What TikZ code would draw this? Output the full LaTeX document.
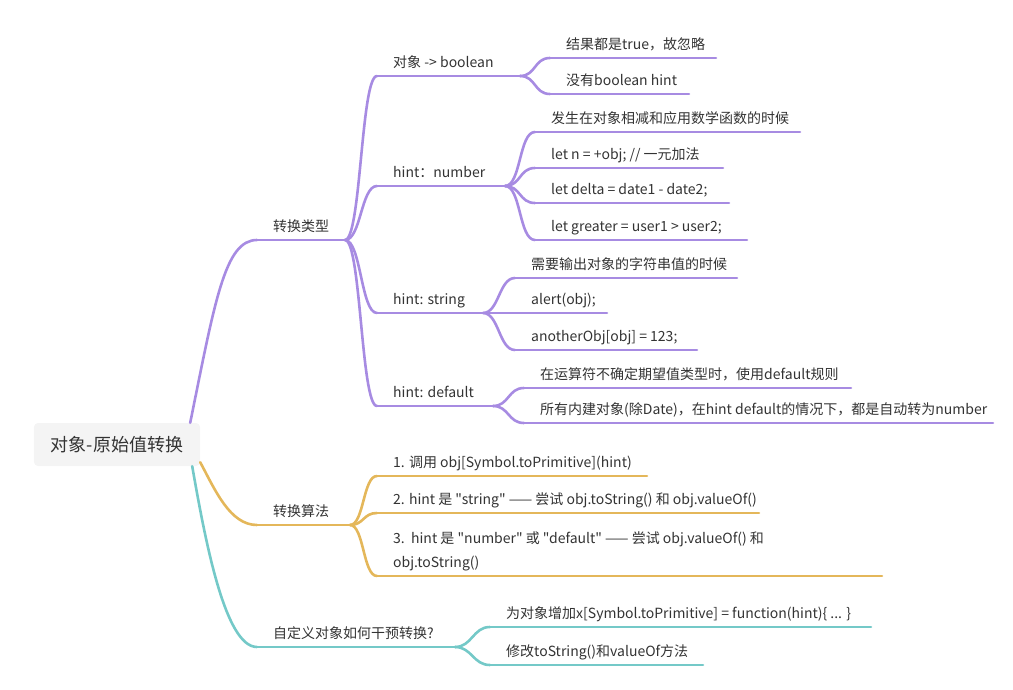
\documentclass[tikz,border=0pt]{standalone}
\usepackage{fontspec}
\setmainfont{Noto Sans CJK SC}[Ligatures=TeXOff]
\usepackage{tikz}
\definecolor{purpline}{HTML}{A78BE2}
\definecolor{goldline}{HTML}{E4B75A}
\definecolor{tealline}{HTML}{74C9C8}
\definecolor{rootfill}{HTML}{F4F4F4}
\definecolor{textgray}{HTML}{333333}

\begin{document}
\begin{tikzpicture}[x=1bp,y=-1bp,
    branch/.style={draw=#1,line width=2.6bp,line cap=round},
    topic/.style={anchor=south west,inner xsep=16bp,inner ysep=5.5bp,text depth=3bp,align=left,
      text=textgray,font=\fontsize{14bp}{24bp}\selectfont}]
\useasboundingbox (0,0) rectangle (1013,690);

\node[fill=rootfill,rounded corners=4bp,minimum width=166bp,minimum height=43bp,text=textgray,
  font=\fontsize{18bp}{22bp}\selectfont] (root) at (117,444.5) {对象-原始值转换};

%% first level
\node[topic] (type) at (257,240) {转换类型};
\node[topic] (algo) at (257,525) {转换算法};
\node[topic] (custom) at (257,647) {自定义对象如何干预转换?};

%% 转换类型
\node[topic] (bool) at (377,76) {对象 -> boolean};
\node[topic] (num) at (377,186) {hint：number};
\node[topic] (str) at (377,313) {hint: string};
\node[topic] (dflt) at (377,406) {hint: default};
\node[topic] (b1) at (550,58) {结果都是true，故忽略};
\node[topic] (b2) at (550,94) {没有boolean hint};
\node[topic] (n1) at (535,132) {发生在对象相减和应用数学函数的时候};
\node[topic] (n2) at (535,168) {let n = +obj; // 一元加法};
\node[topic] (n3) at (535,203) {let delta = date1 - date2;};
\node[topic] (n4) at (535,240) {let greater = user1 > user2;};
\node[topic] (s1) at (515,278) {需要输出对象的字符串值的时候};
\node[topic] (s2) at (515,313) {alert(obj);};
\node[topic] (s3) at (515,350) {anotherObj[obj] = 123;};
\node[topic] (d1) at (524,388) {在运算符不确定期望值类型时，使用default规则};
\node[topic] (d2) at (524,423) {所有内建对象(除Date)，在hint default的情况下，都是自动转为number};

%% 转换算法
\node[topic] (a1) at (377,476) {1. 调用 obj[Symbol.toPrimitive](hint)};
\node[topic] (a2) at (377,513) {2. hint 是 "string" —— 尝试 obj.toString() 和 obj.valueOf()};
\node[topic] (a3) at (377,576) {3.\ \ hint 是 "number" 或 "default" —— 尝试 obj.valueOf() 和\\obj.toString()};

%% 自定义
\node[topic] (c1) at (490,627) {为对象增加x[Symbol.toPrimitive] = function(hint)\{ ... \}};
\node[topic] (c2) at (490,665) {修改toString()和valueOf方法};

%% root branches
\draw[branch=purpline] ([xshift=-10bp]root.north east) .. controls +(25,-123) and +(-32,0) .. (type.south west);
\draw[branch=goldline] ([yshift=4bp]root.south east) .. controls +(15,28) and +(-27,0) .. (algo.south west);
\draw[branch=tealline] ([xshift=-8bp]root.south east) .. controls +(13,74) and +(-32,0) .. (custom.south west);

%% underlines
\foreach \n/\len in {type/88,bool/143,num/128,str/106,dflt/116,b1/166,b2/139,n1/265,n2/188,n3/194,n4/212,
    s1/222,s2/92,s3/182,d1/327,d2/469}
  \draw[branch=purpline] (\n.south west) -- ++(\len,0) coordinate (\n-end);
\foreach \n/\len in {algo/93,a1/270,a2/382,a3/505}
  \draw[branch=goldline] (\n.south west) -- ++(\len,0) coordinate (\n-end);
\foreach \n/\len in {custom/198,c1/381,c2/213}
  \draw[branch=tealline] (\n.south west) -- ++(\len,0) coordinate (\n-end);

%% connectors
\foreach \p/\c in {type/bool,type/num,type/str,type/dflt,bool/b1,bool/b2,num/n1,num/n2,num/n3,num/n4,
    str/s1,str/s2,str/s3,dflt/d1,dflt/d2}
  \draw[branch=purpline] (\p-end) to[out=0,in=180,distance=16bp] (\c.south west);
\foreach \c in {a1,a2,a3}
  \draw[branch=goldline] (algo-end) to[out=0,in=180,distance=14bp] (\c.south west);
\foreach \c in {c1,c2}
  \draw[branch=tealline] (custom-end) to[out=0,in=180,distance=17bp] (\c.south west);
\end{tikzpicture}
\end{document}
